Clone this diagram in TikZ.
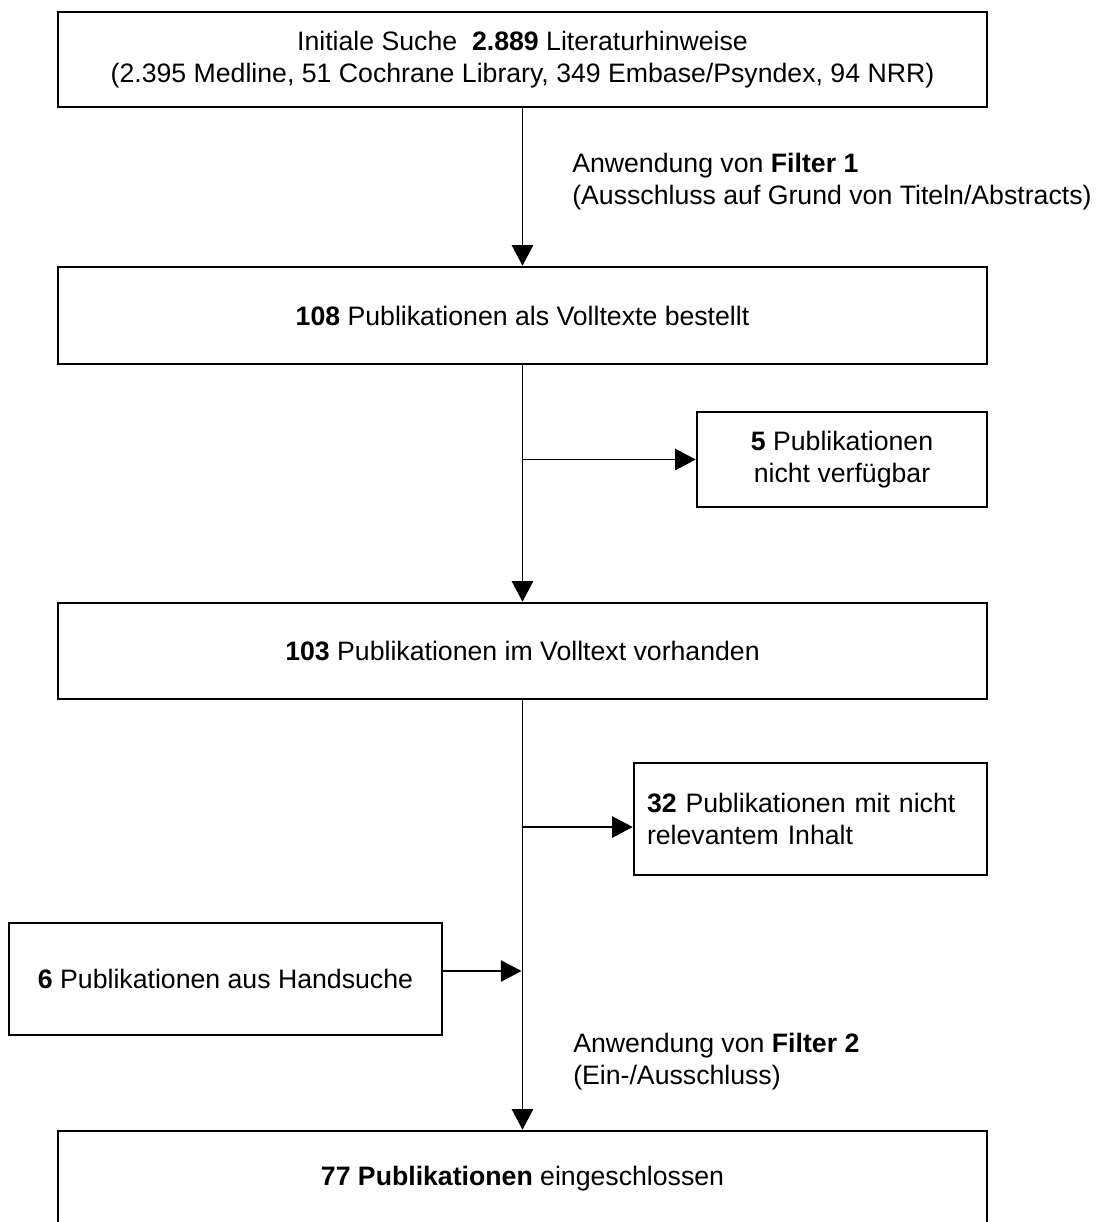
\documentclass[tikz,border=0pt]{standalone}
\usepackage{fontspec}
\setmainfont{Liberation Sans}
\usetikzlibrary{arrows.meta}
\begin{document}
\begin{tikzpicture}[x=0.75pt,y=-0.75pt,
  txt/.style={font=\fontsize{20}{24}\selectfont},
  box/.style={draw, line width=1.9pt, rectangle, inner sep=0pt, align=center, txt},
  conn/.style={line width=1.3pt},
  arr/.style={conn, -{Triangle[width=16pt,length=15.5pt]}},
  lbl/.style={anchor=west, align=left, inner sep=0pt, txt}]
\useasboundingbox (0,0) rectangle (1101,1222);
% main boxes
\node[box, minimum width=929*0.75pt, minimum height=95*0.75pt] (b1) at (522.5,59.5)
  {Initiale Suche\ \ \textbf{2.889} Literaturhinweise\\(2.395 Medline, 51 Cochrane Library, 349 Embase/Psyndex, 94 NRR)};
\node[box, minimum width=929*0.75pt, minimum height=97*0.75pt] (b2) at (522.5,315.5)
  {\textbf{108} Publikationen als Volltexte bestellt};
\node[box, minimum width=929*0.75pt, minimum height=96*0.75pt] (b3) at (522.5,651)
  {\textbf{103} Publikationen im Volltext vorhanden};
\node[box, minimum width=929*0.75pt, minimum height=95*0.75pt] (b4) at (522.5,1178.5)
  {\textbf{77 Publikationen} eingeschlossen};
% side boxes
\node[box, minimum width=290*0.75pt, minimum height=95*0.75pt] (b5) at (842,459.5)
  {\textbf{5} Publikationen\\nicht verfügbar};
\node[box, minimum width=353*0.75pt, minimum height=112*0.75pt, align=left,
  text width=327*0.75pt, inner xsep=13*0.75pt] (b6) at (810.5,819)
  {\textbf{32} Publikationen mit nicht\\relevantem Inhalt};
\node[box, minimum width=433*0.75pt, minimum height=112*0.75pt] (b7) at (225.5,979)
  {\textbf{6} Publikationen aus Handsuche};
% labels
\node[lbl] (f1) at (572,182) {Anwendung von \textbf{Filter 1}\\(Ausschluss auf Grund von Titeln/Abstracts)};
\node[lbl] (f2) at (573,1062) {Anwendung von \textbf{Filter 2}\\(Ein-/Ausschluss)};
% junctions
\coordinate (j1) at (b2.south |- b5.west);
\coordinate (j2) at (521.5,827);
\coordinate (j3) at (521.5,971);
% connectors
\draw[arr] (b1.south) -- (b2.north);
\draw[arr] (b2.south) -- (b3.north);
\draw[arr] (j1) -- (b5.west);
\draw[arr] (b3.south) -- (b4.north);
\draw[arr] (j2) -- (j2 -| b6.west);
\draw[arr] (j3 -| b7.east) -- (j3);
\end{tikzpicture}
\end{document}
